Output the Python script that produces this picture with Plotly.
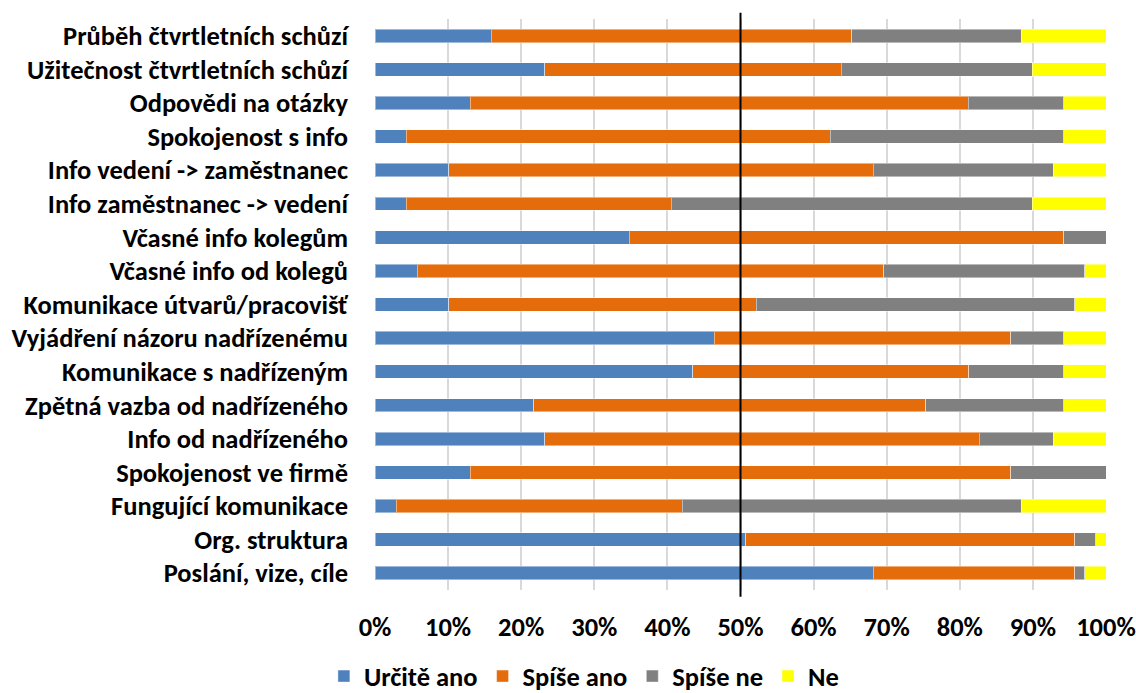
import plotly.graph_objects as go

# Survey items, listed top to bottom
categories = [
    "Průběh čtvrtletních schůzí",
    "Užitečnost čtvrtletních schůzí",
    "Odpovědi na otázky",
    "Spokojenost s info",
    "Info vedení -> zaměstnanec",
    "Info zaměstnanec -> vedení",
    "Včasné info kolegům",
    "Včasné info od kolegů",
    "Komunikace útvarů/pracovišť",
    "Vyjádření názoru nadřízenému",
    "Komunikace s nadřízeným",
    "Zpětná vazba od nadřízeného",
    "Info od nadřízeného",
    "Spokojenost ve firmě",
    "Fungující komunikace",
    "Org. struktura",
    "Poslání, vize, cíle",
]

# Share of answers (%) per item
urcite_ano = [15.9, 23.2, 13.0, 4.3, 10.1, 4.3, 34.8, 5.8, 10.1, 46.4, 43.5, 21.7, 23.2, 13.0, 2.9, 50.7, 68.1]
spise_ano = [49.3, 40.6, 68.1, 58.0, 58.0, 36.2, 59.4, 63.8, 42.0, 40.6, 37.7, 53.6, 59.4, 73.9, 39.1, 44.9, 27.5]
spise_ne = [23.2, 26.1, 13.0, 31.9, 24.6, 49.3, 5.8, 27.5, 43.5, 7.2, 13.0, 18.8, 10.1, 13.0, 46.4, 2.9, 1.4]
ne = [11.6, 10.1, 5.8, 5.8, 7.2, 10.1, 0.0, 2.9, 4.3, 5.8, 5.8, 5.8, 7.2, 0.0, 11.6, 1.4, 2.9]

series = [
    ("Určitě ano", urcite_ano, "#4F81BD"),
    ("Spíše ano", spise_ano, "#E46C0A"),
    ("Spíše ne", spise_ne, "#808080"),
    ("Ne", ne, "#FFFF00"),
]

tick_vals = [0, 10, 20, 30, 40, 50, 60, 70, 80, 90, 100]
tick_text = [f"{v}%" for v in tick_vals]

FONT = "Carlito, Lato, 'Liberation Sans', sans-serif"
FONT_SIZE = 26.5

fig = go.Figure()
for name, vals, color in series:
    fig.add_trace(go.Bar(
        y=categories,
        x=vals,
        name=name,
        orientation="h",
        marker=dict(color=color, line=dict(color="rgba(255,255,255,0.45)", width=1)),
        width=0.4,
        hoverinfo="x+y+name",
    ))

# Reference line at 50 %
fig.add_shape(
    type="line", xref="x", yref="paper",
    x0=50, x1=50, y0=-0.012, y1=1.011,
    line=dict(color="black", width=2),
    layer="above",
)

fig.update_layout(
    barmode="stack",
    barnorm="percent",
    width=1136,
    height=693,
    margin=dict(l=375, r=30, t=19, b=103, autoexpand=False),
    paper_bgcolor="white",
    plot_bgcolor="white",
    font=dict(family=FONT, size=FONT_SIZE, color="black", weight="bold"),
    showlegend=True,
    legend=dict(
        orientation="h",
        xref="container", yref="container",
        x=0.514, y=0.024,
        xanchor="center", yanchor="middle",
        font=dict(family=FONT, size=FONT_SIZE, color="black", weight="bold"),
        itemwidth=30,
        traceorder="normal",
    ),
    xaxis=dict(
        range=[0, 100],
        tickvals=tick_vals,
        ticktext=tick_text,
        showgrid=True,
        gridcolor="#D9D9D9",
        gridwidth=1.5,
        zeroline=False,
        showline=False,
        ticks="",
        ticklabelstandoff=18,
        automargin=False,
        fixedrange=True,
    ),
    yaxis=dict(
        categoryorder="array",
        categoryarray=categories,
        autorange="reversed",
        showgrid=False,
        zeroline=False,
        showline=False,
        ticks="",
        ticklabelstandoff=26,
        automargin=False,
        fixedrange=True,
    ),
)

fig.write_html("out.html")
